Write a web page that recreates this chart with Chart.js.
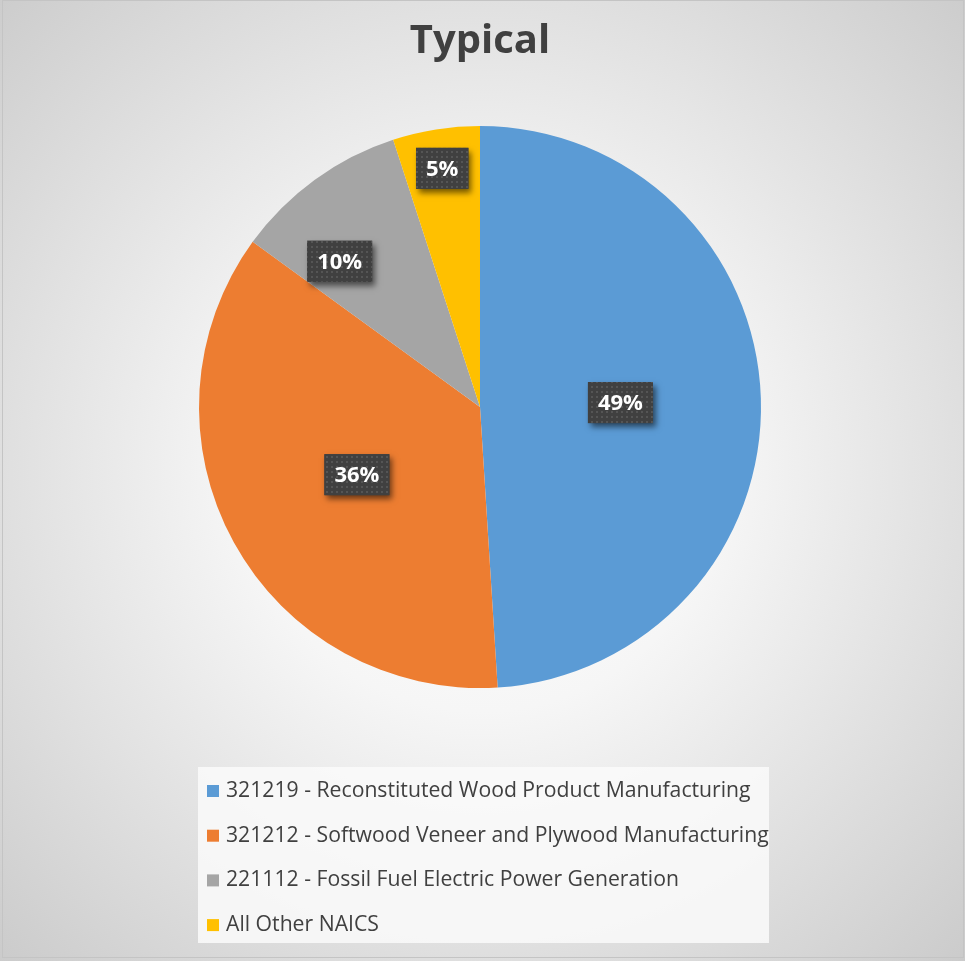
<!DOCTYPE html>
<html>
<head>
<meta charset="utf-8">
<script src="https://cdn.jsdelivr.net/npm/chart.js@4.4.1/dist/chart.umd.min.js"></script>
<style>
  html, body { margin: 0; padding: 0; background: #ffffff; }
  canvas { display: block; }
</style>
</head>
<body>
<canvas id="chart" width="965" height="961"></canvas>
<script>
// Share of emissions by NAICS code, typical facility
const chartTitle = 'Typical';
const categories = [
  '321219 - Reconstituted Wood Product Manufacturing',
  '321212 - Softwood Veneer and Plywood Manufacturing',
  '221112 - Fossil Fuel Electric Power Generation',
  'All Other NAICS'
];
const shares = [49, 36, 10, 5];
const sliceColors = ['#5B9BD5', '#ED7D31', '#A5A5A5', '#FFC000'];

const TEXT_COLOR = '#404040';
const FONT = '"Open Sans", "Noto Sans", "DejaVu Sans", sans-serif';

// Soft radial backdrop with a thin frame
const backdrop = {
  id: 'backdrop',
  beforeDraw(chart) {
    const { ctx, width, height } = chart;
    ctx.save();
    const g = ctx.createRadialGradient(482, 470, 0, 482, 470, 690);
    g.addColorStop(0, '#ffffff');
    g.addColorStop(0.35, '#f6f6f6');
    g.addColorStop(1, '#cbcbcb');
    ctx.fillStyle = g;
    ctx.fillRect(0, 0, width, height);
    ctx.strokeStyle = '#c4c4c4';
    ctx.lineWidth = 1;
    ctx.strokeRect(2.5, 0.5, width - 4, height - 4);
    ctx.restore();
  }
};

// Dark dotted value tags placed inside each slice
function makeDotPattern(ctx) {
  const tile = document.createElement('canvas');
  tile.width = 5; tile.height = 5;
  const t = tile.getContext('2d');
  t.fillStyle = '#404040';
  t.fillRect(0, 0, 5, 5);
  t.fillStyle = '#555555';
  t.fillRect(1, 1, 2, 2);
  return ctx.createPattern(tile, 'repeat');
}

const valueTags = {
  id: 'valueTags',
  afterDatasetsDraw(chart, args, opts) {
    const { ctx } = chart;
    const meta = chart.getDatasetMeta(0);
    const values = chart.data.datasets[0].data;
    const pattern = makeDotPattern(ctx);
    ctx.save();
    ctx.font = 'bold 22px ' + FONT;
    ctx.textAlign = 'center';
    ctx.textBaseline = 'middle';
    meta.data.forEach((arc, i) => {
      const p = arc.getProps(['x', 'y', 'startAngle', 'endAngle', 'outerRadius'], true);
      const a = p.startAngle + (p.endAngle - p.startAngle) * opts.along[i];
      const r = p.outerRadius * opts.radial[i];
      const cx = p.x + Math.cos(a) * r;
      const cy = p.y + Math.sin(a) * r;
      const text = values[i] + '%';
      const w = ctx.measureText(text).width + 20;
      const h = 41;
      ctx.save();
      ctx.shadowColor = 'rgba(0,0,0,0.55)';
      ctx.shadowBlur = 6;
      ctx.shadowOffsetX = 3;
      ctx.shadowOffsetY = 4;
      ctx.fillStyle = '#404040';
      ctx.fillRect(cx - w / 2, cy - h / 2, w, h);
      ctx.restore();
      ctx.fillStyle = pattern;
      ctx.fillRect(cx - w / 2, cy - h / 2, w, h);
      ctx.fillStyle = '#ffffff';
      ctx.fillText(text, cx, cy + 1);
    });
    ctx.restore();
  }
};

// Stacked legend in a pale panel beneath the pie
const stackedLegend = {
  id: 'stackedLegend',
  afterDraw(chart, args, opts) {
    const { ctx } = chart;
    const labels = chart.data.labels;
    const colors = chart.data.datasets[0].backgroundColor;
    ctx.save();
    ctx.fillStyle = 'rgba(250,250,250,0.85)';
    ctx.fillRect(opts.left, opts.top, opts.width, opts.height);
    ctx.font = opts.fontSize + 'px ' + FONT;
    ctx.textBaseline = 'middle';
    ctx.textAlign = 'left';
    labels.forEach((label, i) => {
      const y = opts.firstRow + i * opts.rowStep;
      ctx.fillStyle = colors[i];
      ctx.fillRect(opts.left + 9, y - 6, 12, 12);
      ctx.fillStyle = TEXT_COLOR;
      ctx.fillText(label, opts.left + 28, y);
    });
    ctx.restore();
  }
};

new Chart(document.getElementById('chart'), {
  type: 'pie',
  data: {
    labels: categories,
    datasets: [{
      data: shares,
      backgroundColor: sliceColors,
      borderWidth: 0
    }]
  },
  options: {
    responsive: false,
    animation: false,
    events: [],
    layout: { padding: { left: 199, right: 204, top: 0, bottom: 273 } },
    plugins: {
      title: {
        display: true,
        text: chartTitle,
        color: TEXT_COLOR,
        font: { family: FONT, size: 40, weight: 'bold', lineHeight: 1.2 },
        padding: { top: 18, bottom: 60 }
      },
      legend: { display: false },
      tooltip: { enabled: false },
      valueTags: {
        radial: [0.5, 0.5, 0.72, 0.86],
        along: [0.5, 0.5, 0.28, 0.5]
      },
      stackedLegend: {
        left: 198, top: 767, width: 571, height: 176,
        firstRow: 791, rowStep: 44.7, fontSize: 21.2
      }
    }
  },
  plugins: [backdrop, valueTags, stackedLegend]
});
</script>
</body>
</html>
